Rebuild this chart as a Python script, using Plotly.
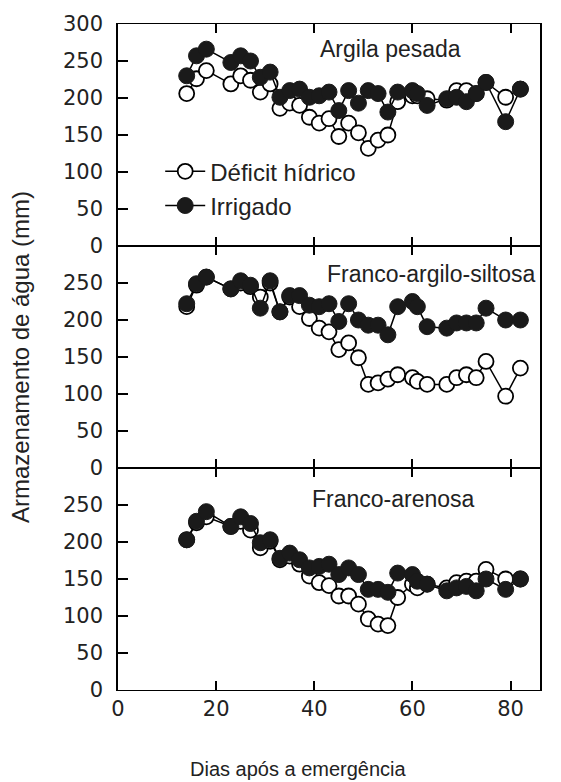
import plotly.graph_objects as go
from plotly.subplots import make_subplots

days = [14, 16, 18, 23, 25, 27, 29, 31, 33, 35, 37, 39, 41, 43, 45, 47, 49, 51,
        53, 55, 57, 60, 61, 63, 67, 69, 71, 73, 75, 79, 82]

panel_names = ["Argila pesada", "Franco-argilo-siltosa", "Franco-arenosa"]

# Argila pesada
argila_deficit = [206, 226, 237, 219, 230, 224, 208, 219, 186, 193, 190, 174, 166, 172,
                  148, 166, 153, 132, 143, 150, 195, 203, 203, 199, 197, 210, 210, 206,
                  221, 201, 212]
argila_irrigado = [230, 257, 266, 248, 257, 250, 228, 235, 201, 210, 212, 201, 203, 208,
                   183, 210, 193, 210, 206, 181, 208, 210, 206, 190, 199, 201, 195, 206,
                   221, 168, 212]

# Franco-argilo-siltosa
fas_deficit = [218, 247, 258, 242, 250, 245, 231, 250, 211, 231, 218, 202, 189, 184,
               160, 169, 149, 113, 115, 120, 126, 122, 117, 113, 113, 122, 126, 122,
               144, 97, 135]
fas_irrigado = [222, 249, 258, 242, 253, 247, 216, 253, 211, 233, 233, 220, 218, 222,
                198, 222, 200, 193, 193, 180, 218, 225, 218, 191, 189, 196, 196, 196,
                216, 200, 200]

# Franco-arenosa
fa_deficit = [203, 226, 234, 221, 228, 216, 192, 201, 176, 181, 170, 154, 145, 141,
              127, 127, 116, 96, 89, 87, 125, 143, 138, 143, 138, 145, 147, 147,
              163, 150, 150]
fa_irrigado = [203, 228, 241, 221, 234, 225, 199, 203, 178, 185, 176, 165, 167, 170,
               156, 165, 156, 136, 136, 132, 158, 156, 147, 143, 134, 138, 140, 134,
               150, 136, 150]

deficit_series = [argila_deficit, fas_deficit, fa_deficit]
irrigado_series = [argila_irrigado, fas_irrigado, fa_irrigado]

y_tickvals = [[0, 50, 100, 150, 200, 250, 300],
              [0, 50, 100, 150, 200, 250],
              [0, 50, 100, 150, 200, 250]]
x_tickvals = [0, 20, 40, 60, 80]

FONT = "Liberation Sans, Arial, sans-serif"
TICKFONT = "DejaVu Sans, sans-serif"
INK = "#222"

fig = make_subplots(rows=3, cols=1, shared_xaxes=True, vertical_spacing=0)

for i in range(3):
    fig.add_trace(go.Scatter(
        x=days, y=deficit_series[i], mode="lines+markers", name="Déficit hídrico",
        line=dict(color="black", width=1.5),
        marker=dict(symbol="circle", size=15, color="white",
                    line=dict(color="black", width=1.8)),
        showlegend=(i == 0), legendrank=1,
    ), row=i + 1, col=1)
    fig.add_trace(go.Scatter(
        x=days, y=irrigado_series[i], mode="lines+markers", name="Irrigado",
        line=dict(color="black", width=1.5),
        marker=dict(symbol="circle", size=16, color="#1a1a1a",
                    line=dict(color="#1a1a1a", width=1)),
        showlegend=(i == 0), legendrank=2,
    ), row=i + 1, col=1)

for i in range(3):
    fig.update_yaxes(
        range=[0, 300], tickvals=y_tickvals[i], ticks="inside", ticklen=10,
        tickwidth=1.5, tickcolor="black", showline=True, linecolor="black",
        linewidth=1.6, mirror=True, showgrid=False, zeroline=False,
        tickfont=dict(family=TICKFONT, size=21, color=INK),
        ticklabelstandoff=9,
        row=i + 1, col=1)
    fig.update_xaxes(
        range=[0, 86], tickvals=x_tickvals, ticks="inside", ticklen=9,
        tickwidth=1.5, tickcolor="black", showline=True, linecolor="black",
        linewidth=1.3, mirror="ticks", showgrid=False, zeroline=False,
        tickfont=dict(family=TICKFONT, size=21, color=INK),
        row=i + 1, col=1)

# panel labels
label_pos = [(0.645, 0.888, "center"), (0.995, 0.875, "right"), (0.654, 0.862, "center")]
for i, name in enumerate(panel_names):
    px, py, anchor = label_pos[i]
    fig.add_annotation(
        text=name, x=px, y=py, xref="x domain",
        yref=f"y{'' if i == 0 else i + 1} domain",
        xanchor=anchor, yanchor="middle", showarrow=False,
        font=dict(family=FONT, size=23, color=INK))

# axis titles
fig.add_annotation(
    text="Armazenamento de água (mm)", x=-0.232, y=0.50, xref="paper", yref="paper",
    textangle=-90, showarrow=False, xanchor="center", yanchor="middle",
    font=dict(family=FONT, size=24, color=INK))
fig.add_annotation(
    text="Dias após a emergência", x=0.427, y=-0.119, xref="paper", yref="paper",
    showarrow=False, xanchor="center", yanchor="middle",
    font=dict(family=FONT, size=20, color=INK))

fig.update_layout(
    width=561, height=782,
    margin=dict(l=118, r=21, t=18, b=92),
    plot_bgcolor="white", paper_bgcolor="white",
    showlegend=True,
    legend=dict(x=0.1, y=0.812, xanchor="left", yanchor="top",
                bgcolor="rgba(0,0,0,0)", font=dict(family=FONT, size=24, color=INK),
                itemwidth=40, tracegroupgap=0),
)

fig.write_html("out.html", config={"displayModeBar": False},
               post_script="document.body.style.margin='0';document.body.style.padding='0';")
